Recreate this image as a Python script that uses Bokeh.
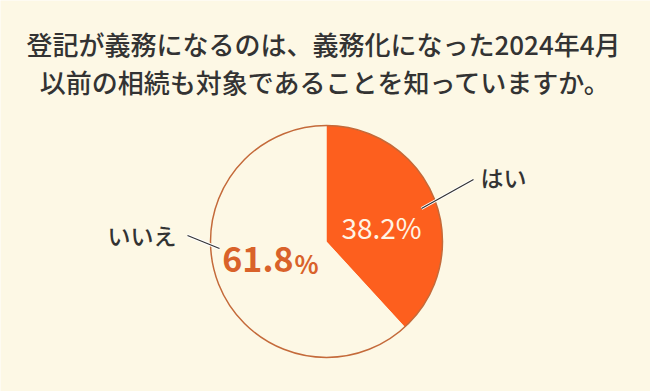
import math
from bokeh.plotting import figure
from bokeh.models import Range1d, ColumnDataSource
from bokeh.core.properties import value
from bokeh.embed import file_html
from bokeh.resources import INLINE

# ---- data ----
categories = ["はい", "いいえ"]
values = [38.2, 61.8]
title_lines = ["登記が義務になるのは、義務化になった2024年4月",
               "以前の相続も対象であることを知っていますか。"]

BG = "#FDF8E5"
ORANGE = "#FD5F1E"
EDGE = "#C46A3A"
DARK = "#333333"
FONT = "Noto Sans CJK JP"
FONT_MED = "'Noto Sans CJK JP Medium', 'Noto Sans CJK JP'"

W, H = 650, 391
def X(ix): return ix
def Y(iy): return H - iy

p = figure(width=W, height=H, output_backend="svg", toolbar_location=None,
           x_range=Range1d(0, W), y_range=Range1d(0, H), min_border=0)
p.axis.visible = False
p.grid.visible = False
p.outline_line_color = None
p.background_fill_color = BG
p.border_fill_color = BG

# title
p.text(x=[X(323), X(325)], y=[Y(43), Y(81)], text=title_lines,
       text_font=value(FONT_MED), text_font_size="26px", text_color=DARK,
       text_align="center", text_baseline="middle")

# pie
cx, cy, r = X(326), Y(241), 116
total = sum(values)
starts, ends = [], []
a = math.pi / 2
for v in values:
    starts.append(a)
    a = a - 2 * math.pi * v / total
    ends.append(a)
src = ColumnDataSource(dict(cat=categories, start=starts, end=ends,
                            fill=[ORANGE, BG]))
p.wedge(x=cx, y=cy, radius=r, start_angle="start", end_angle="end",
        direction="clock", fill_color="fill", line_color=None, source=src)
p.scatter(x=[cx], y=[cy], size=2 * r, marker="circle", fill_color=None,
          line_color=EDGE, line_width=1.5)

# leader lines
for xs, ys in [([X(421), X(473)], [Y(208), Y(179)]),
               ([X(187), X(219)], [Y(235), Y(248)])]:
    p.line(xs, ys, line_color="white", line_width=3)
    p.line(xs, ys, line_color=DARK, line_width=1.2)

# category labels
p.text(x=[X(480)], y=[Y(176)], text=[categories[0]], text_font=value(FONT_MED),
       text_font_size="23px", text_color=DARK, text_align="left",
       text_baseline="middle")
p.text(x=[X(176)], y=[Y(234)], text=[categories[1]], text_font=value(FONT_MED),
       text_font_size="23px", text_color=DARK, text_align="right",
       text_baseline="middle")

# value labels
p.text(x=[X(381)], y=[Y(226)], text=[f"{values[0]}%"], text_font=value(FONT),
       text_font_size="28px", text_color="#FFF4E4", text_align="center",
       text_baseline="middle")
p.text(x=[X(293)], y=[Y(259)], text=[f"{values[1]}"], text_font=value(FONT),
       text_font_size="34px", text_font_style="bold", text_color="#D9622A",
       text_align="right", text_baseline="middle")
p.text(x=[X(294)], y=[Y(262)], text=["%"], text_font=value(FONT),
       text_font_size="25px", text_font_style="bold", text_color="#D9622A",
       text_align="left", text_baseline="middle")

html = file_html(p, INLINE)
html = html.replace("<body>", f'<body style="background:{BG};">', 1)
open("out.html", "w").write(html)
